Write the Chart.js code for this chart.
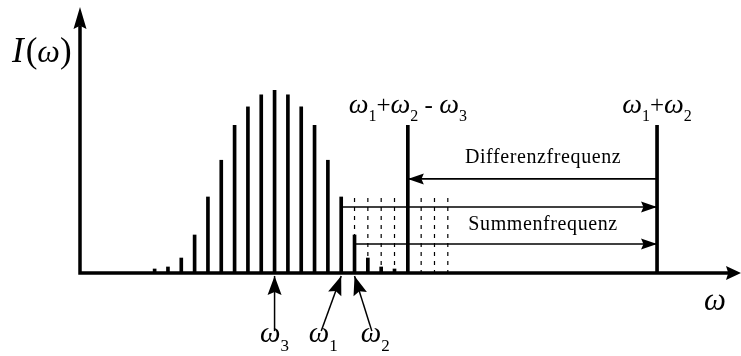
<!DOCTYPE html>
<html>
<head>
<meta charset="utf-8">
<script src="https://cdn.jsdelivr.net/npm/chart.js@4.4.1/dist/chart.umd.min.js"></script>
<style>
  html, body { margin: 0; padding: 0; background: #fff; }
  canvas { display: block; }
</style>
</head>
<body>
<canvas id="spectrum" width="741" height="356"></canvas>
<script>
// comb lines of the input spectrum (x = mode number, I = intensity in % of peak)
const modeX = [0, 1, 2, 3, 4, 5, 6, 7, 8, 9, 10, 11, 12, 13, 14, 15, 16, 17, 18];
const modeI = [2.2, 3.3, 8.2, 20.8, 41.6, 61.7, 80.8, 90.9, 97.5, 100, 97.5, 90.9, 80.8, 61.7, 41.6, 20.8, 8.2, 3.3, 2.2];

// mixing products: w1+w2-w3 and w1+w2
const mixX = [19, 37.7];
const mixI = [80.8, 80.8];

// dashed continuation of the comb
const dashX = [15, 16, 17, 18, 20, 21, 22];
const dashI = [41.1, 41.1, 41.1, 41.1, 41.1, 41.1, 41.1];

// horizontal arrows: [from x, to x, level]
const diffArrow = [37.7, 19, 51.5];
const sumArrows = [[14, 37.7, 36.1], [15, 37.7, 15.9]];

// pointers below the axis: [tail x, tip x] for w3, w1, w2
const pointers = [[9, 9], [12.5, 14], [16.3, 15]];
const pointerTail = -31.8;
const pointerTip = -1.6;

const SERIF = '"Liberation Serif", "DejaVu Serif", serif';

function arrowHead(ctx, x, y, ang, len, hw) {
  ctx.save();
  ctx.translate(x, y);
  ctx.rotate(ang);
  ctx.beginPath();
  ctx.moveTo(0, 0);
  ctx.lineTo(-len, -hw);
  ctx.lineTo(-len * 0.85, 0);
  ctx.lineTo(-len, hw);
  ctx.closePath();
  ctx.fill();
  ctx.restore();
}

// draws a formula made of italic / roman / subscript pieces
function drawMath(ctx, parts, x, y, size) {
  const fonts = {
    it: 'italic ' + size + 'px ' + SERIF,
    rm: Math.round(size * 0.9) + 'px ' + SERIF,
    sub: Math.round(size * 0.58) + 'px ' + SERIF
  };
  let w = 0;
  parts.forEach(([t, s]) => { ctx.font = fonts[s]; w += ctx.measureText(t).width; });
  let cx = x - w / 2;
  ctx.textAlign = 'left';
  ctx.textBaseline = 'alphabetic';
  parts.forEach(([t, s]) => {
    ctx.font = fonts[s];
    ctx.fillText(t, cx, y + (s === 'sub' ? size * 0.3 : 0));
    cx += ctx.measureText(t).width;
  });
}

const w = (n) => [['ω', 'it'], [String(n), 'sub']];

const formulas = [
  { x: 19, y: 87.6, size: 28, parts: [...w(1), ['+', 'rm'], ...w(2), [' - ', 'rm'], ...w(3)] },
  { x: 37.7, y: 87.6, size: 28, parts: [...w(1), ['+', 'rm'], ...w(2)] },
  { x: 9, y: -37.8, size: 29, parts: w(3) },
  { x: 12.65, y: -37.8, size: 29, parts: w(1) },
  { x: 16.55, y: -37.8, size: 29, parts: w(2) },
  { x: 42.05, y: -20.3, size: 31, parts: [['ω', 'it']] }
];

const overlay = {
  id: 'overlay',
  afterDatasetsDraw(chart) {
    const { ctx, chartArea: a, scales: { x, y } } = chart;
    ctx.save();
    ctx.fillStyle = '#000';
    ctx.strokeStyle = '#000';

    // axes with arrow tips
    const x0 = x.getPixelForValue(x.min);
    const y0 = y.getPixelForValue(0);
    ctx.lineWidth = 3.5;
    ctx.beginPath();
    ctx.moveTo(x0, y0 + 1.5);
    ctx.lineTo(x0, a.top + 18);
    ctx.moveTo(x0 - 1.75, y0);
    ctx.lineTo(a.right - 10, y0);
    ctx.stroke();
    arrowHead(ctx, x0, a.top - 1, -Math.PI / 2, 22, 6.5);
    arrowHead(ctx, a.right, y0, 0, 15, 7);

    // heads for arrow datasets
    chart.data.datasets.forEach((ds, i) => {
      if (!ds.head) return;
      const pts = chart.getDatasetMeta(i).data;
      const p = pts[pts.length - 1], q = pts[pts.length - 2];
      arrowHead(ctx, p.x, p.y, Math.atan2(p.y - q.y, p.x - q.x), ds.head[0], ds.head[1]);
    });

    // formulas
    formulas.forEach(f => drawMath(ctx, f.parts, x.getPixelForValue(f.x), y.getPixelForValue(f.y), f.size));

    // I(w) axis label
    const lx = 12, ly = 62;
    let cx = lx;
    [['I', 'italic 35px '], ['(', '35px '], ['ω', 'italic 32px '], [')', '35px ']].forEach(([t, f]) => {
      ctx.font = f + SERIF;
      ctx.fillText(t, cx, ly);
      cx += ctx.measureText(t).width + (t === 'I' ? 2 : 0);
    });

    // arrow captions
    ctx.font = '20px ' + SERIF;
    ctx.textAlign = 'center';
    ctx.textBaseline = 'middle';
    ctx.letterSpacing = '0.6px';
    ctx.fillText('Differenzfrequenz', x.getPixelForValue(29.15), y.getPixelForValue(63));
    ctx.fillText('Summenfrequenz', x.getPixelForValue(29.15), y.getPixelForValue(26.3));
    ctx.restore();
  }
};

const seg = (xs, ys) => xs.flatMap((v, i) => [{ x: v, y: ys[i] }, { x: v, y: 0 }, { x: v, y: null }]);
const arrowLine = (pts, head, width) => ({
  type: 'line', data: pts.map(([px, py]) => ({ x: px, y: py })), head,
  borderColor: '#000', borderWidth: width, pointRadius: 0, clip: false, order: 0
});

const datasets = [
  { type: 'bar', data: modeX.map((v, i) => ({ x: v, y: modeI[i] })), backgroundColor: '#000',
    barThickness: 3, grouped: false, borderWidth: 0 },
  { type: 'bar', data: mixX.map((v, i) => ({ x: v, y: mixI[i] })), backgroundColor: '#000',
    barThickness: 3, grouped: false, borderWidth: 0 },
  { type: 'line', data: seg(dashX, dashI), borderColor: '#000', borderWidth: 1.2,
    borderDash: [4, 5], pointRadius: 0, spanGaps: false },
  arrowLine([[diffArrow[0], diffArrow[2]], [diffArrow[1], diffArrow[2]]], [16, 5.5], 1.6),
  ...sumArrows.map(s => arrowLine([[s[0], s[2]], [s[1], s[2]]], [16, 5.5], 1.6)),
  ...pointers.map(p => arrowLine([[p[0], pointerTail], [p[1], pointerTip]], [19, 7], 1.5))
];

new Chart(document.getElementById('spectrum'), {
  type: 'bar',
  data: { datasets },
  options: {
    responsive: false,
    animation: false,
    devicePixelRatio: 1,
    layout: { padding: { left: 80, right: 0, top: 8, bottom: 83 } },
    plugins: { legend: { display: false }, tooltip: { enabled: false } },
    scales: {
      x: { type: 'linear', min: -5.6, max: 44, offset: false, display: false },
      y: { min: 0, max: 145, display: false }
    }
  },
  plugins: [overlay]
});
</script>
</body>
</html>
